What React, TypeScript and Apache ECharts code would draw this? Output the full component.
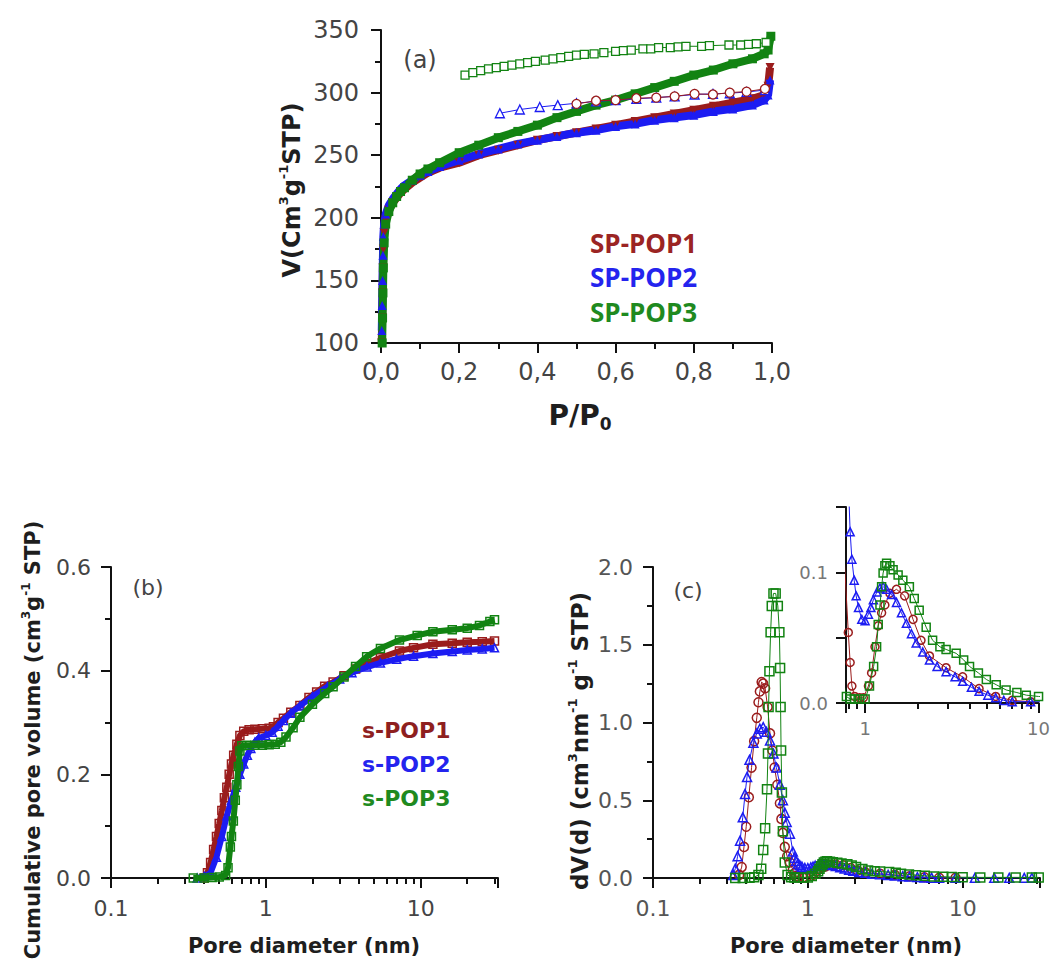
import React, { useEffect, useRef } from 'react';
import * as echarts from 'echarts';

// ---------- Panel (a): N2 isotherms, P/P0 vs V ----------
const aP1Ads = [[0.002,100],[0.003,120],[0.004,140],[0.005,160],[0.006,175],[0.008,188],[0.012,198],[0.02,206],[0.03,212],[0.04,216],[0.05,220],[0.06,223],[0.08,228],[0.1,232],[0.12,236],[0.15,240],[0.2,244],[0.25,250],[0.3,254],[0.35,258],[0.4,262],[0.45,265],[0.5,268],[0.55,271],[0.6,274],[0.65,277],[0.7,280],[0.75,283],[0.8,286],[0.85,289],[0.9,292],[0.95,295],[0.98,298],[0.99,305],[0.995,320]];
const aP2Ads = [[0.002,110],[0.003,130],[0.004,150],[0.005,170],[0.006,185],[0.008,195],[0.012,203],[0.02,210],[0.03,215],[0.04,219],[0.05,223],[0.06,226],[0.08,230],[0.1,234],[0.12,237],[0.15,241],[0.2,246],[0.25,251],[0.3,255],[0.35,259],[0.4,262],[0.45,265],[0.5,268],[0.55,270],[0.6,273],[0.65,275],[0.7,278],[0.75,280],[0.8,282],[0.85,285],[0.9,287],[0.95,290],[0.98,294],[0.99,298],[0.995,310]];
const aP3Ads = [[0.003,100],[0.004,120],[0.005,140],[0.006,160],[0.008,180],[0.012,195],[0.02,205],[0.03,212],[0.04,217],[0.05,221],[0.06,224],[0.08,230],[0.1,235],[0.12,239],[0.15,244],[0.2,252],[0.25,258],[0.3,264],[0.35,269],[0.4,274],[0.45,280],[0.5,285],[0.55,290],[0.6,294],[0.65,299],[0.7,304],[0.75,309],[0.8,314],[0.85,318],[0.9,323],[0.95,327],[0.98,331],[0.99,334],[0.997,345]];
const aP1Des = [[0.5,291],[0.55,293.5],[0.6,294],[0.653,295.5],[0.704,296],[0.751,297],[0.802,299],[0.849,298.5],[0.892,300],[0.935,300.8],[0.982,303]];
const aP2Des = [[0.304,283.5],[0.355,286.5],[0.406,288.5],[0.452,290],[0.5,291.5],[0.55,293],[0.6,294],[0.653,295],[0.704,296],[0.751,297],[0.802,298.5],[0.849,299],[0.892,299.5],[0.935,300.5],[0.982,302]];
const aP3Des = [[0.215,314],[0.235,316],[0.255,317.5],[0.275,319],[0.295,320],[0.315,321],[0.335,322],[0.355,323],[0.375,324],[0.395,325],[0.42,326],[0.44,327],[0.46,328],[0.48,329],[0.5,330],[0.52,330.5],[0.545,331],[0.57,332],[0.6,333],[0.62,333.5],[0.64,334],[0.67,335],[0.69,335],[0.71,336],[0.74,336],[0.76,336.5],[0.78,337],[0.82,337],[0.84,337.5],[0.89,338],[0.92,338],[0.94,338.5],[0.96,339],[0.985,340]];
const aXTicks = [0, 0.2, 0.4, 0.6, 0.8, 1.0];
const aYRange = [100, 350];

// ---------- Panel (b): cumulative pore volume ----------
const bP1 = [[0.4,0],[0.42,0.01],[0.44,0.03],[0.46,0.055],[0.48,0.08],[0.5,0.105],[0.52,0.13],[0.54,0.155],[0.56,0.175],[0.58,0.2],[0.6,0.22],[0.62,0.237],[0.65,0.258],[0.68,0.275],[0.72,0.283],[0.78,0.286],[0.85,0.287],[0.95,0.288],[1.05,0.289],[1.12,0.292],[1.2,0.3],[1.3,0.308],[1.45,0.32],[1.66,0.333],[1.9,0.348],[2.13,0.359],[2.4,0.37],[2.72,0.378],[3.2,0.39],[3.8,0.403],[4.48,0.414],[5.5,0.425],[7.3,0.438],[9,0.444],[12,0.451],[16,0.453],[20,0.455],[25,0.456],[30,0.457]];
const bP2 = [[0.36,0],[0.4,0.003],[0.44,0.01],[0.48,0.04],[0.52,0.08],[0.56,0.12],[0.6,0.15],[0.64,0.175],[0.68,0.2],[0.72,0.22],[0.76,0.237],[0.8,0.25],[0.85,0.262],[0.9,0.27],[1.0,0.275],[1.1,0.281],[1.2,0.293],[1.3,0.304],[1.45,0.318],[1.66,0.332],[2.0,0.35],[2.5,0.369],[3.0,0.384],[3.6,0.396],[4.5,0.407],[5.5,0.415],[7,0.422],[9,0.428],[12,0.433],[16,0.437],[20,0.44],[25,0.442],[30,0.444]];
const bP3 = [[0.34,0],[0.4,0],[0.45,0.001],[0.5,0.002],[0.55,0.005],[0.57,0.02],[0.59,0.06],[0.6,0.08],[0.617,0.11],[0.635,0.15],[0.65,0.18],[0.665,0.215],[0.68,0.245],[0.7,0.255],[0.75,0.256],[0.85,0.256],[0.95,0.256],[1.05,0.257],[1.15,0.258],[1.25,0.262],[1.35,0.272],[1.5,0.29],[1.66,0.31],[2.0,0.335],[2.4,0.356],[2.72,0.369],[3.2,0.388],[3.8,0.408],[4.48,0.427],[5.5,0.443],[7.3,0.459],[9.5,0.468],[12,0.475],[16,0.479],[20,0.482],[24,0.487],[28,0.495],[30,0.498]];

// ---------- Panel (c): pore size distribution ----------
const cP1 = [[0.36,0.02],[0.374,0.07],[0.387,0.2],[0.4,0.33],[0.416,0.52],[0.433,0.71],[0.45,0.88],[0.468,1.03],[0.48,1.13],[0.49,1.2],[0.503,1.26],[0.515,1.25],[0.53,1.22],[0.55,1.1],[0.57,0.93],[0.59,0.82],[0.61,0.71],[0.635,0.6],[0.66,0.48],[0.675,0.38],[0.69,0.29],[0.71,0.2],[0.735,0.14],[0.766,0.1],[0.8,0.054],[0.82,0.031],[0.839,0.013],[0.87,0.005],[0.93,0.004],[0.977,0.004],[1.045,0.013],[1.09,0.023],[1.14,0.043],[1.19,0.059],[1.245,0.069],[1.3,0.075],[1.39,0.084],[1.517,0.087],[1.69,0.082],[1.89,0.064],[2.1,0.048],[2.35,0.036],[2.93,0.027],[3.65,0.02],[4.54,0.011],[5.66,0.005],[7.05,0.002],[9,0.001]];
const cP2 = [[0.33,0.02],[0.34,0.06],[0.352,0.14],[0.365,0.24],[0.38,0.39],[0.393,0.54],[0.405,0.65],[0.42,0.76],[0.445,0.87],[0.468,0.93],[0.49,0.96],[0.515,0.97],[0.54,0.94],[0.57,0.885],[0.6,0.8],[0.627,0.71],[0.66,0.6],[0.69,0.5],[0.71,0.42],[0.73,0.36],[0.766,0.285],[0.8,0.17],[0.82,0.131],[0.839,0.11],[0.865,0.094],[0.888,0.082],[0.916,0.073],[0.957,0.064],[1.0,0.063],[1.045,0.068],[1.08,0.073],[1.116,0.079],[1.17,0.085],[1.218,0.088],[1.27,0.089],[1.33,0.087],[1.42,0.083],[1.517,0.077],[1.62,0.069],[1.73,0.061],[1.85,0.053],[1.97,0.046],[2.15,0.039],[2.35,0.033],[2.6,0.028],[2.93,0.024],[3.3,0.02],[3.65,0.0166],[4.1,0.012],[4.54,0.0089],[5.1,0.006],[5.66,0.004],[6.3,0.002],[7.05,0.001],[9,0.001],[12,0.001],[16,0.001],[20,0.001],[25,0.001],[28,0.001]];
const cP3 = [[0.34,0],[0.38,0],[0.42,0.002],[0.45,0.005],[0.48,0.02],[0.5,0.06],[0.515,0.18],[0.53,0.32],[0.545,0.57],[0.553,0.8],[0.558,1.1],[0.565,1.33],[0.575,1.58],[0.585,1.75],[0.6,1.83],[0.62,1.83],[0.64,1.75],[0.655,1.58],[0.662,1.35],[0.667,1.1],[0.672,0.82],[0.68,0.55],[0.69,0.3],[0.71,0.1],[0.74,0.02],[0.78,0.005],[0.82,0.003],[0.87,0.003],[0.93,0.003],[1.0,0.003],[1.06,0.013],[1.12,0.028],[1.165,0.043],[1.19,0.06],[1.218,0.075],[1.245,0.089],[1.27,0.0995],[1.3,0.105],[1.33,0.107],[1.39,0.105],[1.45,0.102],[1.55,0.098],[1.65,0.094],[1.8,0.089],[1.92,0.08],[2.05,0.071],[2.25,0.058],[2.45,0.048],[2.7,0.043],[2.93,0.041],[3.35,0.038],[3.7,0.033],[4.0,0.028],[4.5,0.023],[5.0,0.018],[5.7,0.014],[6.5,0.01],[7.5,0.008],[8.5,0.006],[10,0.005],[13,0.004],[17,0.004],[22,0.004],[28,0.004],[31,0.004]];

const logMajorLabels = [0.1, 1, 10];

const legendA = ['SP-POP1', 'SP-POP2', 'SP-POP3'];
const legendB = ['s-POP1', 's-POP2', 's-POP3'];

const RED = '#9a1c1c';
const BLUE = '#1c1cf2';
const GREEN = '#128312';
const AX = '#111111';
const FONT = 'DejaVu Sans';

function logFmt(v: number) {
  for (const m of logMajorLabels) if (Math.abs(v - m) < 1e-6 * m) return String(m);
  return '';
}

function valAxis(grid: number, min: number, max: number, interval: number, fs: number, color: string, margin: number, fmt: (v: number) => string, minorSplit = 2) {
  return {
    type: 'value', gridIndex: grid, min, max, interval,
    axisLine: { show: true, onZero: false, lineStyle: { color: AX, width: 2 } },
    axisTick: { show: true, length: 10, lineStyle: { color: AX, width: 2 } },
    minorTick: { show: minorSplit > 1, splitNumber: minorSplit, length: 6, lineStyle: { color: AX, width: 2 } },
    splitLine: { show: false },
    minorSplitLine: { show: false },
    axisLabel: { fontSize: fs, fontFamily: FONT, color, margin, formatter: fmt },
  };
}

function logAxis(grid: number, min: number, max: number, fs: number, color: string, margin: number) {
  return {
    type: 'log', logBase: 10, gridIndex: grid, min, max,
    axisLine: { show: true, onZero: false, lineStyle: { color: AX, width: 2 } },
    axisTick: { show: true, length: 10, lineStyle: { color: AX, width: 2 } },
    minorTick: { show: true, splitNumber: 9, length: 6, lineStyle: { color: AX, width: 2 } },
    splitLine: { show: false },
    minorSplitLine: { show: false },
    axisLabel: { fontSize: fs, fontFamily: FONT, color, margin, formatter: logFmt, showMaxLabel: true, showMinLabel: true },
  };
}

function adsSeries(data: number[][], color: string, symbol: string, rotate = 0) {
  return {
    type: 'line', xAxisIndex: 0, yAxisIndex: 0, data, symbol, symbolRotate: rotate, symbolSize: 9,
    lineStyle: { width: 8, color }, itemStyle: { color }, z: 2,
  };
}
function desSeries(data: number[][], color: string, symbol: string, size: number) {
  return {
    type: 'line', xAxisIndex: 0, yAxisIndex: 0, data, symbol, symbolSize: size,
    lineStyle: { width: 1, color }, itemStyle: { color: '#ffffff', borderColor: color, borderWidth: 1.3 }, z: 3,
  };
}
function openSeries(xi: number, data: number[][], color: string, symbol: string, size: number, lw: number, z: number) {
  return {
    type: 'line', xAxisIndex: xi, yAxisIndex: xi, data, symbol, symbolSize: size,
    lineStyle: { width: lw, color }, itemStyle: { color: 'rgba(255,255,255,0)', borderColor: color, borderWidth: 1.5 }, z,
  };
}

function txt(x: number, y: number, text: string, font: string, fill: string, align = 'center', rotation = 0) {
  return { type: 'text', x, y, rotation, z: 5, style: { text, font, fill, textAlign: align, textVerticalAlign: 'middle' } };
}
function richTxt(x: number, y: number, text: string, rich: any, rotation = 0) {
  return { type: 'text', x, y, rotation, z: 5, style: { text, rich, textAlign: 'center', textVerticalAlign: 'middle' } };
}

const boldTok = (fs: number, lh: number) => ({ fontSize: fs, fontWeight: 'bold', fontFamily: FONT, fill: '#1e1e1e', lineHeight: lh, verticalAlign: 'middle' });
const supTok = (fs: number, lh: number) => ({ fontSize: fs, fontWeight: 'bold', fontFamily: FONT, fill: '#1e1e1e', lineHeight: lh, verticalAlign: 'top' });
const subTok = (fs: number, lh: number) => ({ fontSize: fs, fontWeight: 'bold', fontFamily: FONT, fill: '#1e1e1e', lineHeight: lh, verticalAlign: 'bottom' });

const option: any = {
  animation: false,
  backgroundColor: '#ffffff',
  grid: [
    { left: 381, top: 30, width: 391, height: 313 },
    { left: 111, top: 567, width: 387, height: 311 },
    { left: 653, top: 567, width: 387, height: 311 },
    { left: 846, top: 507, width: 194, height: 196 },
  ],
  xAxis: [
    { ...valAxis(0, aXTicks[0], aXTicks[aXTicks.length - 1], 0.2, 24, '#444', 17, (v: number) => v.toFixed(1).replace('.', ',')) },
    logAxis(1, 0.1, 31.6, 22, '#444', 19),
    logAxis(2, 0.1, 31.6, 22, '#555', 19),
    logAxis(3, 0.776, 10, 18, '#777', 16),
  ],
  yAxis: [
    valAxis(0, aYRange[0], aYRange[1], 50, 24, '#444', 22, (v: number) => String(v)),
    valAxis(1, 0, 0.6, 0.2, 22, '#444', 20, (v: number) => v.toFixed(1)),
    valAxis(2, 0, 2.0, 0.5, 22, '#555', 20, (v: number) => v.toFixed(1)),
    valAxis(3, 0, 0.15, 0.05, 18, '#777', 18, (v: number) => (Math.abs(v) < 1e-9 ? '0.0' : Math.abs(v - 0.1) < 1e-9 ? '0.1' : ''), 1),
  ],
  series: [
    adsSeries(aP1Ads, RED, 'triangle', 180),
    adsSeries(aP2Ads, BLUE, 'triangle'),
    adsSeries(aP3Ads, GREEN, 'rect'),
    desSeries(aP2Des, BLUE, 'triangle', 9),
    desSeries(aP1Des, RED, 'circle', 9),
    desSeries(aP3Des, GREEN, 'rect', 8),
    openSeries(1, bP1, RED, 'rect', 8, 6, 2),
    openSeries(1, bP2, BLUE, 'triangle', 8, 6, 3),
    openSeries(1, bP3, GREEN, 'rect', 8, 6, 4),
    openSeries(2, cP1, RED, 'circle', 9, 1, 2),
    openSeries(2, cP2, BLUE, 'triangle', 9, 1, 3),
    openSeries(2, cP3, GREEN, 'rect', 9, 1, 4),
    openSeries(3, cP1, RED, 'circle', 8, 1, 2),
    openSeries(3, cP2, BLUE, 'triangle', 8, 1, 3),
    openSeries(3, cP3, GREEN, 'rect', 8, 1, 4),
  ],
  graphic: [
    richTxt(292, 190, '{b|V(Cm}{s|3}{b|g}{s|-1}{b|STP)}', { b: boldTok(24, 30), s: supTok(13, 30) }, Math.PI / 2),
    richTxt(580, 415, '{b|P/P}{u|0}', { b: boldTok(28, 34), u: subTok(17, 34) }),
    richTxt(33, 740, '{b|Cumulative pore volume (cm}{s|3}{b|g}{s|-1}{b| STP)}', { b: boldTok(21, 26), s: supTok(12, 26) }, Math.PI / 2),
    richTxt(580, 741, '{b|dV(d) (cm}{s|3}{b|nm}{s|-1}{b| g}{s|-1}{b| STP)}', { b: boldTok(23, 28), s: supTok(13, 28) }, Math.PI / 2),
    txt(304, 946, 'Pore diameter (nm)', `bold 21px "${FONT}"`, '#1e1e1e'),
    txt(846, 946, 'Pore diameter (nm)', `bold 21px "${FONT}"`, '#1e1e1e'),
    txt(420, 60, '(a)', `24px "${FONT}"`, '#444'),
    txt(148, 587, '(b)', `22px "${FONT}"`, '#444'),
    txt(688, 590, '(c)', `22px "${FONT}"`, '#444'),
    txt(590, 243, legendA[0], 'bold 26px "Open Sans"', '#9b2423', 'left'),
    txt(590, 277, legendA[1], 'bold 26px "Open Sans"', '#2424ee', 'left'),
    txt(590, 312, legendA[2], 'bold 26px "Open Sans"', '#1f8a1f', 'left'),
    txt(362, 730, legendB[0], `bold 22px "${FONT}"`, '#8e1f1f', 'left'),
    txt(362, 764, legendB[1], `bold 22px "${FONT}"`, '#2424ee', 'left'),
    txt(362, 798, legendB[2], `bold 22px "${FONT}"`, '#1f8a1f', 'left'),
  ],
};

export default function App() {
  const ref = useRef<HTMLDivElement>(null);
  useEffect(() => {
    if (!ref.current) return;
    const chart = echarts.init(ref.current, null, { renderer: 'svg' });
    chart.setOption(option);
    return () => chart.dispose();
  }, []);
  return <div ref={ref} style={{ position: 'absolute', left: 0, top: 0, width: 1053, height: 961, background: '#fff' }} />;
}
